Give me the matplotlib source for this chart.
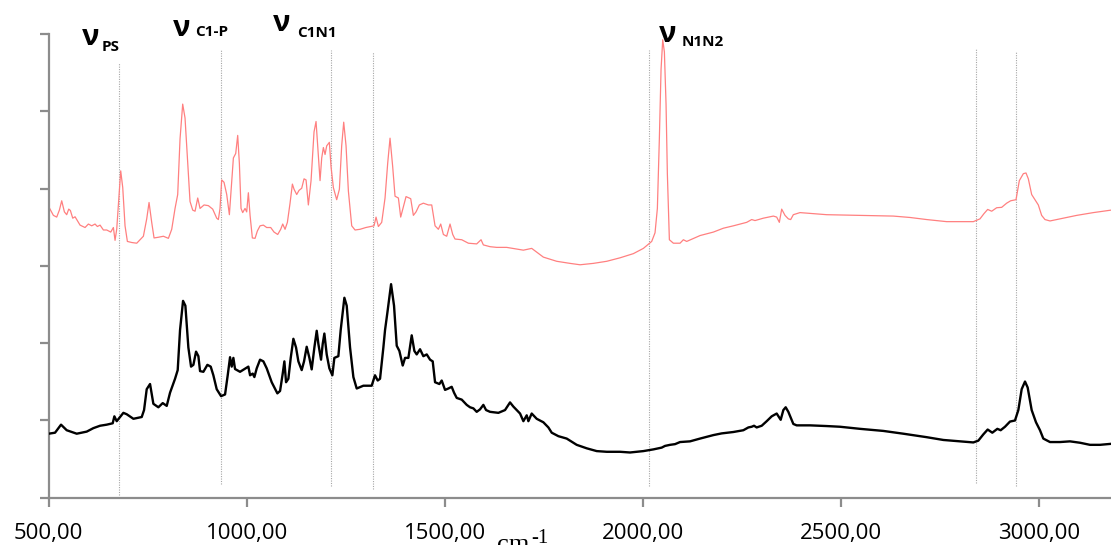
import numpy as np
import matplotlib
matplotlib.use("Agg")
import matplotlib.pyplot as plt
from matplotlib.ticker import FixedLocator

# wavenumber (cm-1) and absorbance (a.u.)
black_wn = [500.4, 516.4, 531.5, 545.8, 571.1, 596.3, 613.1, 629.9, 646.8, 661.9, 666.1, 672.0,
            688.8, 697.2, 714.1, 735.1, 741.0, 747.7, 756.1, 764.5, 777.1, 788.1, 798.2, 806.6,
            819.2, 825.9, 831.8, 839.4, 845.3, 852.8, 859.6, 865.5, 872.2, 878.1, 882.3, 890.7,
            900.8, 909.2, 915.9, 924.3, 935.3, 945.4, 952.1, 958.0, 962.2, 966.4, 970.6, 983.2,
            1004.2, 1008.5, 1015.2, 1019.4, 1025.3, 1033.7, 1042.1, 1050.5, 1063.1, 1077.4, 1084.2,
            1090.9, 1095.1, 1099.3, 1105.2, 1111.1, 1117.8, 1124.5, 1130.4, 1138.8, 1144.7, 1151.4,
            1158.2, 1164.0, 1170.8, 1176.7, 1180.9, 1187.6, 1191.8, 1196.0, 1201.9, 1208.6, 1216.2,
            1221.2, 1231.3, 1237.2, 1246.5, 1252.4, 1260.8, 1269.2, 1277.6, 1294.4, 1315.4, 1323.8,
            1330.6, 1336.5, 1344.9, 1349.1, 1355.0, 1364.3, 1371.8, 1378.6, 1385.3, 1393.7, 1399.6,
            1408.0, 1416.4, 1423.1, 1429.0, 1437.4, 1445.8, 1454.3, 1462.7, 1469.4, 1475.3, 1486.2,
            1492.1, 1500.5, 1508.9, 1517.3, 1523.2, 1530.0, 1542.6, 1555.2, 1563.6, 1572.0, 1580.4,
            1588.8, 1597.2, 1604.0, 1614.1, 1635.1, 1651.9, 1664.5, 1672.9, 1681.4, 1689.8, 1698.2,
            1706.6, 1710.8, 1719.2, 1725.1, 1731.8, 1748.6, 1761.3, 1769.7, 1786.5, 1807.5, 1832.7,
            1858.0, 1883.2, 1908.5, 1942.1, 1967.3, 2001.0, 2026.2, 2047.2, 2055.6, 2068.3, 2080.9,
            2093.5, 2118.7, 2144.0, 2177.6, 2198.6, 2228.1, 2253.3, 2265.9, 2274.3, 2280.2, 2286.9,
            2299.6, 2312.2, 2324.8, 2337.4, 2347.5, 2354.2, 2360.1, 2366.8, 2379.4, 2387.8, 2421.5,
            2463.5, 2497.2, 2547.6, 2606.5, 2657.0, 2715.9, 2757.9, 2800.0, 2833.6, 2846.2, 2858.8,
            2869.8, 2881.5, 2894.2, 2902.6, 2913.5, 2926.1, 2938.7, 2947.2, 2955.6, 2964.0, 2970.7,
            2980.8, 2991.7, 3001.8, 3010.2, 3027.1, 3052.3, 3077.5, 3102.8, 3128.0, 3153.2, 3181.0]
black_abs = [0.828, 0.841, 0.945, 0.873, 0.828, 0.855, 0.900, 0.931, 0.945, 0.963, 1.053, 0.990,
             1.098, 1.080, 1.021, 1.044, 1.134, 1.404, 1.471, 1.215, 1.170, 1.224, 1.188, 1.359,
             1.539, 1.651, 2.169, 2.547, 2.484, 1.944, 1.696, 1.719, 1.890, 1.831, 1.638, 1.629,
             1.719, 1.696, 1.584, 1.404, 1.314, 1.336, 1.584, 1.818, 1.696, 1.809, 1.665, 1.629,
             1.696, 1.584, 1.606, 1.561, 1.674, 1.786, 1.764, 1.674, 1.494, 1.350, 1.381,
             1.606, 1.764, 1.494, 1.539, 1.809, 2.056, 1.944, 1.764, 1.651, 1.764, 1.953,
             1.809, 1.660, 1.944, 2.160, 1.989, 1.786, 1.989, 2.124, 1.854, 1.674, 1.584,
             1.809, 1.831, 2.169, 2.587, 2.484, 1.944, 1.561, 1.413, 1.449, 1.449, 1.584,
             1.516, 1.539, 1.944, 2.169, 2.394, 2.763, 2.484, 1.966, 1.899, 1.710, 1.809,
             1.809, 2.101, 1.899, 1.854, 1.921, 1.831, 1.854, 1.786, 1.764, 1.494, 1.471,
             1.516, 1.395, 1.413, 1.435, 1.359, 1.291, 1.269, 1.201, 1.170, 1.156, 1.111,
             1.143, 1.201, 1.134, 1.111, 1.098, 1.134, 1.233, 1.179, 1.134, 1.089, 0.990,
             1.066, 0.990, 1.089, 1.057, 1.021, 0.976, 0.909, 0.841, 0.796, 0.765, 0.684,
             0.639, 0.603, 0.594, 0.594, 0.585, 0.603, 0.625, 0.648, 0.670, 0.684, 0.693,
             0.720, 0.729, 0.765, 0.810, 0.832, 0.850, 0.873, 0.909, 0.918, 0.931, 0.909,
             0.931, 0.990, 1.053, 1.089, 1.008, 1.134, 1.170, 1.111, 0.954, 0.936, 0.936,
             0.927, 0.918, 0.891, 0.864, 0.828, 0.783, 0.747, 0.729, 0.715, 0.738, 0.819,
             0.882, 0.841, 0.891, 0.873, 0.918, 0.985, 0.999, 1.134, 1.404, 1.503, 1.426,
             1.134, 0.976, 0.873, 0.765, 0.720, 0.720, 0.729, 0.711, 0.684, 0.684, 0.697]

red_wn = [500.4, 512.2, 520.6, 527.3, 533.2, 540.0, 545.8, 550.9, 555.1, 561.0, 566.9, 571.1,
          579.5, 592.1, 600.5, 608.9, 617.3, 623.2, 630.0, 638.4, 646.8, 656.9, 663.6, 667.8,
          672.0, 677.9, 682.1, 687.2, 693.0, 698.9, 709.9, 722.5, 730.9, 739.3, 747.7, 753.6,
          760.3, 766.2, 777.1, 789.8, 802.4, 810.8, 819.2, 825.9, 831.8, 838.5, 844.4, 850.3,
          857.0, 863.8, 869.7, 876.4, 882.3, 892.4, 903.3, 914.2, 924.3, 928.5, 932.7, 936.9,
          942.8, 949.6, 956.3, 962.2, 966.4, 972.3, 977.3, 981.5, 985.7, 989.9, 995.8, 1000.0,
          1004.2, 1008.5, 1014.3, 1021.1, 1026.9, 1033.7, 1042.1, 1050.5, 1060.6, 1069.0, 1078.3,
          1085.8, 1090.9, 1096.8, 1102.7, 1109.4, 1115.3, 1119.5, 1126.2, 1132.1, 1138.8, 1144.7,
          1149.8, 1155.6, 1162.4, 1169.9, 1175.0, 1180.9, 1185.1, 1189.3, 1193.5, 1197.7, 1201.9,
          1208.6, 1212.8, 1218.7, 1227.1, 1233.9, 1239.7, 1244.8, 1250.7, 1256.6, 1265.0, 1273.4,
          1286.0, 1300.6, 1312.9, 1321.3, 1326.4, 1332.3, 1340.7, 1349.1, 1355.8, 1361.7, 1368.4,
          1374.3, 1382.8, 1388.6, 1395.4, 1402.1, 1413.9, 1420.6, 1427.3, 1435.7, 1445.8, 1458.5,
          1466.9, 1475.3, 1483.7, 1489.6, 1496.3, 1504.7, 1513.1, 1519.9, 1525.7, 1542.6, 1559.4,
          1580.4, 1591.4, 1597.2, 1614.1, 1630.9, 1656.1, 1681.4, 1698.2, 1719.2, 1727.6, 1748.6,
          1782.3, 1815.9, 1841.2, 1874.8, 1908.5, 1942.1, 1975.7, 2001.0, 2022.0, 2030.4, 2036.3,
          2041.3, 2045.6, 2049.8, 2054.0, 2058.2, 2061.5, 2066.6, 2076.7, 2093.5, 2101.9, 2110.3,
          2144.0, 2177.6, 2202.8, 2228.1, 2261.7, 2274.3, 2282.7, 2303.8, 2329.0, 2337.4, 2344.1,
          2350.0, 2358.4, 2366.8, 2372.7, 2379.4, 2396.2, 2463.5, 2547.6, 2631.7, 2673.8, 2715.9,
          2766.3, 2833.6, 2850.4, 2860.5, 2869.8, 2879.9, 2892.5, 2905.1, 2917.7, 2927.8, 2941.3,
          2949.7, 2959.8, 2966.5, 2972.4, 2980.8, 2989.2, 2997.6, 3006.0, 3014.4, 3027.1, 3052.3,
          3094.4, 3136.4, 3181.0]
red_abs = [3.766, 3.653, 3.631, 3.721, 3.842, 3.698, 3.662, 3.734, 3.716, 3.617, 3.635, 3.599,
           3.527, 3.496, 3.541, 3.518, 3.541, 3.509, 3.527, 3.464, 3.464, 3.437, 3.496, 3.330,
           3.473, 3.923, 4.229, 4.013, 3.518, 3.316, 3.302, 3.293, 3.338, 3.383, 3.608, 3.820,
           3.563, 3.361, 3.370, 3.383, 3.356, 3.473, 3.743, 3.923, 4.643, 5.093, 4.913, 4.418,
           3.833, 3.721, 3.707, 3.878, 3.743, 3.788, 3.779, 3.734, 3.617, 3.599, 3.743, 4.112,
           4.081, 3.923, 3.662, 4.103, 4.396, 4.454, 4.688, 4.328, 3.743, 3.689, 3.743, 3.698,
           3.946, 3.653, 3.361, 3.356, 3.451, 3.518, 3.527, 3.496, 3.496, 3.437, 3.406,
           3.473, 3.541, 3.473, 3.563, 3.811, 4.058, 3.991, 3.923, 3.977, 4.004, 4.126,
           4.112, 3.788, 4.103, 4.733, 4.868, 4.418, 4.103, 4.396, 4.531, 4.441, 4.553,
           4.598, 4.283, 4.013, 3.856, 3.991, 4.553, 4.859, 4.553, 3.968, 3.518, 3.464,
           3.473, 3.496, 3.509, 3.518, 3.631, 3.509, 3.563, 3.878, 4.328, 4.652, 4.283,
           3.901, 3.878, 3.631, 3.766, 3.896, 3.869, 3.653, 3.698, 3.788, 3.811, 3.788,
           3.788, 3.518, 3.473, 3.541, 3.406, 3.383, 3.541, 3.406, 3.347, 3.338, 3.293,
           3.284, 3.338, 3.271, 3.248, 3.239, 3.239, 3.217, 3.203, 3.226, 3.194, 3.113,
           3.059, 3.032, 3.014, 3.032, 3.059, 3.104, 3.158, 3.226, 3.316, 3.428, 3.743,
           4.643, 5.543, 5.926, 5.768, 5.093, 4.193, 3.338, 3.293, 3.293, 3.338, 3.316,
           3.392, 3.437, 3.487, 3.518, 3.563, 3.599, 3.586, 3.617, 3.644, 3.631, 3.563,
           3.734, 3.653, 3.608, 3.599, 3.662, 3.689, 3.662, 3.653, 3.644, 3.626, 3.599,
           3.572, 3.572, 3.608, 3.676, 3.730, 3.707, 3.752, 3.757, 3.811, 3.842, 3.856,
           4.103, 4.193, 4.202, 4.126, 3.923, 3.856, 3.788, 3.653, 3.599, 3.581, 3.608,
           3.653, 3.689, 3.721]

# band markers: position, top and bottom of the dotted line
marker_wn = [678.6, 935.3, 1212.1, 1319.6, 2016.0, 2840.4, 2940.6]
marker_top = [5.631, 5.804, 5.796, 5.761, 5.790, 5.821, 5.786]
marker_bottom = [0.035, 0.177, 0.151, 0.113, 0.151, 0.190, 0.151]

# band labels: nu position, subscript text and position
band_subs = ["PS", "C1-P", "C1N1", "N1N2"]
nu_x = [606, 836, 1089, 2063]
nu_y = [5.95, 6.067, 6.136, 6.0]
sub_x = [635, 870, 1128, 2098]
sub_y = [5.834, 6.028, 6.012, 5.899]

x_ticks = [500, 1000, 1500, 2000, 2500, 3000]
x_tick_labels = ["500,00", "1000,00", "1500,00", "2000,00", "2500,00", "3000,00"]

fig = plt.figure(figsize=(11.11, 5.45), dpi=100)
ax = fig.add_axes([0.0437, 0.0868, 0.9563, 0.8508])

for x, top, bot in zip(marker_wn, marker_top, marker_bottom):
    ax.plot([x, x], [bot, top], color="#a6a6a6", lw=0.8, ls=(0, (1, 1.2)), zorder=1)

ax.plot(red_wn, red_abs, color="#ff8080", lw=0.9, zorder=2)
ax.plot(black_wn, black_abs, color="black", lw=1.7, zorder=3)

ax.set_xlim(500, 3181)
ax.set_ylim(0, 6)

for s in ["top", "right"]:
    ax.spines[s].set_visible(False)
for s in ["left", "bottom"]:
    ax.spines[s].set_color("#8c8c8c")
    ax.spines[s].set_linewidth(1.6)

ax.xaxis.set_major_locator(FixedLocator(x_ticks))
ax.set_xticklabels(x_tick_labels, fontfamily="Open Sans", fontsize=16)
ax.set_yticks(np.arange(0, 7))
ax.set_yticklabels([])
ax.tick_params(axis="both", direction="out", length=6.5, width=1.6, color="#8c8c8c")
ax.tick_params(axis="x", pad=12)

for nx, ny, sx, sy, sub in zip(nu_x, nu_y, sub_x, sub_y, band_subs):
    ax.text(nx, ny, "ν", fontfamily="Open Sans", fontweight="bold", fontsize=21,
            ha="center", va="center")
    ax.text(sx, sy, sub, fontfamily="Open Sans", fontweight="bold", fontsize=11,
            ha="left", va="center")

# unit label, partly cut by the bottom edge like the original
fig.text(497 / 1111, -6 / 545, "cm", fontfamily="Liberation Serif", fontsize=19,
         ha="left", va="baseline")
fig.text(531 / 1111, 2 / 545, "-1", fontfamily="Liberation Serif", fontsize=15,
         ha="left", va="baseline")

fig.savefig("out.png", dpi=100)
